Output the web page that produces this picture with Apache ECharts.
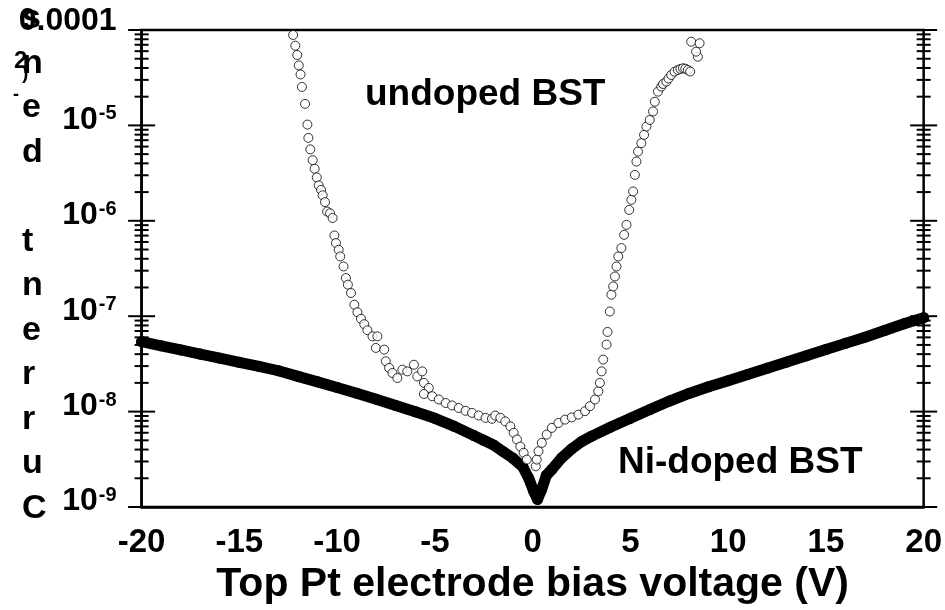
<!DOCTYPE html>
<html>
<head>
<meta charset="utf-8">
<script src="https://cdn.jsdelivr.net/npm/echarts@6/dist/echarts.min.js"></script>
<style>
  html, body { margin: 0; padding: 0; background: #fff; }
  #chart { width: 945px; height: 610px; }
</style>
</head>
<body>
<div id="chart"></div>
<script>
// Ni-doped BST film: leakage current density vs. bias (V, A/cm2)
const niVoltage = [-20, -19, -18, -17, -16, -15, -14, -13, -12, -11, -10, -9, -8, -7, -6, -5, -4, -3,
  -2.5, -2, -1.5, -1, -0.5, -0.2, 0.05, 0.25, 0.45, 0.7, 1, 1.5, 2, 2.5, 3,
  4, 5, 6, 7, 8, 9, 10, 11, 12, 13, 14, 15, 16, 17, 18, 19, 20];
const niCurrent = [5.40e-8, 4.89e-8, 4.43e-8, 4.01e-8, 3.63e-8, 3.29e-8, 2.98e-8, 2.68e-8, 2.34e-8, 2.05e-8,
  1.79e-8, 1.56e-8, 1.35e-8, 1.16e-8, 9.95e-9, 8.5e-9, 7.0e-9, 5.6e-9,
  5.0e-9, 4.47e-9, 3.8e-9, 3.24e-9, 2.63e-9, 2.0e-9, 1.47e-9, 1.2e-9, 1.5e-9, 2.14e-9, 2.5e-9, 3.3e-9, 4.07e-9, 4.84e-9, 5.5e-9,
  6.9e-9, 8.5e-9, 1.05e-8, 1.29e-8, 1.55e-8, 1.82e-8, 2.11e-8, 2.45e-8, 2.85e-8, 3.31e-8, 3.85e-8, 4.47e-8, 5.19e-8, 6.03e-8, 7.08e-8, 8.32e-8, 9.66e-8];

// undoped BST film: leakage current density vs. bias (V, A/cm2)
const undopedVoltage = [-12.25, -12.14, -12.04, -11.96, -11.87, -11.80, -11.64, -11.52, -11.47, -11.37,
  -11.25, -11.15, -11.04, -10.94, -10.82, -10.74, -10.62, -10.51, -10.36, -10.23,
  -10.14, -10.06, -9.92, -9.84, -9.67, -9.55, -9.45, -9.29, -9.12, -8.96,
  -8.78, -8.61, -8.45, -8.19, -7.94, -8.02, -7.59, -7.51, -7.34, -7.17,
  -6.92, -6.66, -6.41, -6.07, -5.90, -5.65, -5.56, -5.31, -5.56, -5.14,
  -4.80, -4.45, -4.12, -3.78, -3.43, -3.10, -2.76, -2.41, -2.08, -1.91,
  -1.65, -1.40, -1.14, -0.97, -0.80, -0.63, -0.46, -0.30, 0.16,
  0.21, 0.30, 0.47, 0.72, 0.98, 1.32, 1.66, 2.00, 2.34, 2.68,
  2.93, 3.19, 3.36, 3.44, 3.53, 3.61, 3.78, 3.83, 3.95, 4.03,
  4.12, 4.21, 4.29, 4.38, 4.54, 4.68, 4.80, 4.94, 5.05, 5.14,
  5.23, 5.31, 5.39, 5.56, 5.70, 5.82, 5.99, 6.16, 6.25, 6.41,
  6.58, 6.67, 6.84, 6.95, 7.09, 7.26, 7.43, 7.56, 7.69, 7.81,
  7.94, 8.06, 8.45, 8.36, 8.11, 8.54];
const undopedCurrent = [8.87e-5, 6.85e-5, 5.47e-5, 4.25e-5, 3.42e-5, 2.53e-5, 1.68e-5, 1.02e-5, 7.4e-6, 5.61e-6,
  4.32e-6, 3.51e-6, 2.85e-6, 2.35e-6, 2.11e-6, 1.85e-6, 1.57e-6, 1.25e-6, 1.20e-6, 1.07e-6,
  7.02e-7, 5.85e-7, 4.97e-7, 4.23e-7, 3.32e-7, 2.51e-7, 2.14e-7, 1.75e-7, 1.32e-7, 1.10e-7,
  9.4e-8, 8.24e-8, 7.13e-8, 6.15e-8, 6.15e-8, 4.65e-8, 4.46e-8, 3.37e-8, 2.87e-8, 2.54e-8,
  2.25e-8, 2.75e-8, 2.64e-8, 3.10e-8, 2.34e-8, 2.64e-8, 2.00e-8, 1.77e-8, 1.53e-8, 1.45e-8,
  1.34e-8, 1.23e-8, 1.16e-8, 1.09e-8, 1.02e-8, 9.7e-9, 9.1e-9, 8.6e-9, 8.4e-9, 9.1e-9,
  8.6e-9, 7.9e-9, 7.0e-9, 6.0e-9, 5.1e-9, 4.3e-9, 3.7e-9, 3.14e-9, 2.67e-9,
  3.14e-9, 3.84e-9, 4.70e-9, 5.74e-9, 6.75e-9, 7.6e-9, 8.24e-9, 8.7e-9, 9.3e-9, 1.01e-8,
  1.14e-8, 1.34e-8, 1.63e-8, 2.00e-8, 2.64e-8, 3.51e-8, 5.04e-8, 6.84e-8, 1.12e-7, 1.68e-7,
  2.05e-7, 2.61e-7, 3.32e-7, 4.23e-7, 5.18e-7, 7.13e-7, 9.08e-7, 1.30e-6, 1.66e-6, 2.03e-6,
  3.03e-6, 4.18e-6, 5.32e-6, 6.52e-6, 7.96e-6, 9.73e-6, 1.14e-5, 1.40e-5, 1.77e-5, 2.26e-5,
  2.55e-5, 2.72e-5, 2.88e-5, 3.10e-5, 3.38e-5, 3.66e-5, 3.81e-5, 3.91e-5, 3.97e-5, 3.93e-5,
  3.81e-5, 3.67e-5, 5.25e-5, 5.93e-5, 7.54e-5, 7.26e-5];

// axis settings
const xTicks = { min: -20, max: 20, step: 5 };
const yDecades = { min: 1e-9, max: 1e-4 };
const xTitle = 'Top Pt electrode bias voltage (V)';
const yTitleLetters = ['C', 'u', 'r', 'r', 'e', 'n', 't', ' ', 'd', 'e', 'n', 's'];
const seriesNames = ['undoped BST', 'Ni-doped BST'];

const FONT = '"Liberation Sans", Arial, Helvetica, sans-serif';

const zip = (xs, ys) => xs.map((x, i) => [x, ys[i]]);

// major (decade) and minor (2..9 x decade) tick values on the log axis
const tickData = [];
for (let e = -9; e <= -4; e++) {
  tickData.push([0, Math.pow(10, e), 1]);
  if (e < -4) {
    for (let k = 2; k <= 9; k++) tickData.push([0, k * Math.pow(10, e), 0]);
  }
}

const chart = echarts.init(document.getElementById('chart'), null, { renderer: 'canvas' });

// stacked y-axis title, one letter per line, read bottom to top
const yTitleGraphics = yTitleLetters.map((ch, i) => ({
  type: 'text',
  x: 22,
  y: 520 - 44.5 * i - 11.5,
  style: { text: ch, font: 'bold 34px ' + FONT, fill: '#000', verticalAlign: 'middle', align: 'left' }
}));
const yTitleExtras = [
  { type: 'text', x: 14, y: 61, style: { text: '2', font: 'bold 24px ' + FONT, fill: '#000', verticalAlign: 'middle' } },
  { type: 'text', x: 22, y: 74, style: { text: ')', font: 'bold 19px ' + FONT, fill: '#000', verticalAlign: 'middle' } },
  { type: 'text', x: 13, y: 95, style: { text: '-', font: 'bold 18px ' + FONT, fill: '#000', verticalAlign: 'middle' } }
];

chart.setOption({
  animation: false,
  backgroundColor: '#fff',
  grid: {
    left: 141.6, right: 18.3, top: 30, bottom: 102.3,
    show: true, borderColor: '#000', borderWidth: 2.5, backgroundColor: 'transparent'
  },
  xAxis: {
    type: 'value',
    min: xTicks.min, max: xTicks.max, interval: xTicks.step,
    axisLine: { show: true, onZero: false, lineStyle: { color: '#000', width: 2.5 } },
    axisTick: { show: false },
    splitLine: { show: false },
    axisLabel: {
      margin: 19, color: '#000', fontFamily: FONT, fontWeight: 'bold', fontSize: 33
    },
    name: xTitle,
    nameLocation: 'middle',
    nameGap: 57,
    nameTextStyle: { color: '#000', fontFamily: FONT, fontWeight: 'bold', fontSize: 41, verticalAlign: 'top' }
  },
  yAxis: {
    type: 'log',
    logBase: 10,
    min: yDecades.min, max: yDecades.max,
    axisLine: { show: true, onZero: false, lineStyle: { color: '#000', width: 2.5 } },
    axisTick: { show: false },
    minorTick: { show: false },
    splitLine: { show: false },
    axisLabel: {
      margin: 25,
      padding: [0, 0, 11, 0],
      formatter: function (v) {
        const e = Math.round(Math.log10(v));
        if (e === -4) return '{c|0.0001}';
        return '{a|10}{b|' + e + '}';
      },
      rich: {
        a: { fontFamily: FONT, fontWeight: 'bold', fontSize: 32, color: '#000', lineHeight: 32 },
        b: { fontFamily: FONT, fontWeight: 'bold', fontSize: 20, color: '#000', verticalAlign: 'top', lineHeight: 32, padding: [0, 0, 0, 1] },
        c: { fontFamily: FONT, fontWeight: 'bold', fontSize: 32, color: '#000', lineHeight: 32, padding: [0, 0, 6, 0] }
      }
    }
  },
  series: [
    {
      name: seriesNames[1],
      type: 'line',
      data: zip(niVoltage, niCurrent),
      symbol: 'circle',
      symbolSize: 11,
      showSymbol: true,
      clip: false,
      lineStyle: { color: '#000', width: 11, join: 'round', cap: 'round' },
      itemStyle: { color: '#000' },
      z: 2
    },
    {
      name: seriesNames[0],
      type: 'scatter',
      data: zip(undopedVoltage, undopedCurrent),
      symbol: 'circle',
      symbolSize: 9,
      clip: false,
      itemStyle: { color: '#fff', borderColor: '#000', borderWidth: 1 },
      z: 3
    },
    {
      type: 'custom',
      data: tickData,
      encode: { x: 0, y: 1 },
      silent: true,
      clip: false,
      z: 4,
      renderItem: function (params, api) {
        const y = api.coord([0, api.value(1)])[1];
        const cs = params.coordSys;
        const half = api.value(2) ? 13.5 : 7;
        const xl = cs.x, xr = cs.x + cs.width;
        const st = { stroke: '#000', lineWidth: 2 };
        return {
          type: 'group',
          children: [
            { type: 'line', shape: { x1: xl - half, y1: y, x2: xl + half, y2: y }, style: st },
            { type: 'line', shape: { x1: xr - half, y1: y, x2: xr + half, y2: y }, style: st }
          ]
        };
      }
    }
  ],
  graphic: [
    { type: 'text', x: 365, y: 95, style: { text: seriesNames[0], font: 'bold 37px ' + FONT, fill: '#000', verticalAlign: 'middle' } },
    { type: 'text', x: 618, y: 463, style: { text: seriesNames[1], font: 'bold 37px ' + FONT, fill: '#000', verticalAlign: 'middle' } }
  ].concat(yTitleGraphics, yTitleExtras)
});
</script>
</body>
</html>
